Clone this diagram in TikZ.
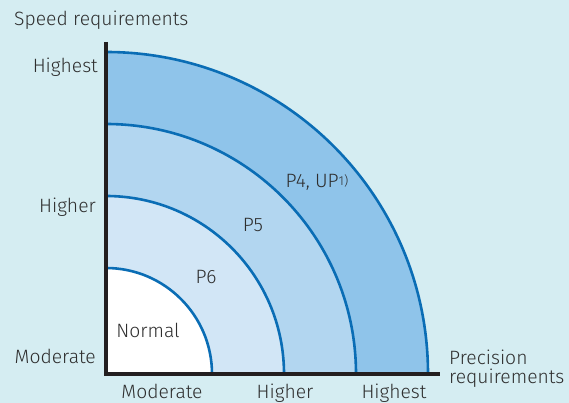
\documentclass[tikz,border=0pt]{standalone}
\usepackage{fontspec}
\setmainfont{Fira Sans Light}
\usetikzlibrary{calc}
\definecolor{bg}{HTML}{D5EDF2}
\definecolor{arcblue}{HTML}{0A6DB5}
\definecolor{fillA}{HTML}{8FC4EA}
\definecolor{fillB}{HTML}{B2D6F0}
\definecolor{fillC}{HTML}{D2E6F6}
\definecolor{txt}{HTML}{2E2E2E}
\definecolor{axis}{HTML}{231F20}
\tikzset{
  lbl/.style={text=txt, font=\fontsize{19.3}{22}\selectfont, inner sep=0pt},
  sector/.style={draw=arcblue, line width=2.6pt},
  axisline/.style={draw=axis, line width=3.2pt}
}
\begin{document}
\begin{tikzpicture}[x=1pt,y=1pt]
\useasboundingbox[fill=bg] (0,0) rectangle (569,403);
\coordinate (O) at (106,29);
\coordinate (T) at (106,361);
\coordinate (R) at (440,29);
% sectors
\fill[fillA] (O) -- ++(322pt,0) arc[start angle=0,end angle=90,radius=322pt] -- cycle;
\draw[sector] ($(O)+(322pt,0)$) arc[start angle=0,end angle=90,radius=322pt];
\fill[fillB] (O) -- ++(250pt,0) arc[start angle=0,end angle=90,radius=250pt] -- cycle;
\draw[sector] ($(O)+(250pt,0)$) arc[start angle=0,end angle=90,radius=250pt];
\fill[fillC] (O) -- ++(178pt,0) arc[start angle=0,end angle=90,radius=178pt] -- cycle;
\draw[sector] ($(O)+(178pt,0)$) arc[start angle=0,end angle=90,radius=178pt];
\fill[white] (O) -- ++(106pt,0) arc[start angle=0,end angle=90,radius=106pt] -- cycle;
\draw[sector] ($(O)+(106pt,0)$) arc[start angle=0,end angle=90,radius=106pt];
% axes
\draw[axisline] (T) -- (O) -- (R);
% labels
\node[lbl, anchor=west] (speed) at (14,383) {Speed requirements};
\node[lbl, anchor=east] (yhighest) at (98,336) {Highest};
\node[lbl, anchor=east] (yhigher) at (96,196) {Higher};
\node[lbl, anchor=east] (ymod) at (96,47) {Moderate};
\node[lbl, anchor=base] (xmod) at (162,4) {Moderate};
\node[lbl, anchor=base] (xhigher) at (285,4) {Higher};
\node[lbl, anchor=base] (xhighest) at (394,4) {Highest};
\node[lbl, anchor=west, align=left] (prec) at (449,34) {Precision\\[-3pt]requirements};
\node[lbl] (normal) at (148,73) {Normal};
\node[lbl] (p6) at (206,126) {P6};
\node[lbl] (p5) at (253,178) {P5};
\node[lbl] (p4) at (317,221) {P4, UP\raisebox{2pt}{\fontsize{13}{14}\selectfont 1)}};
\end{tikzpicture}
\end{document}
